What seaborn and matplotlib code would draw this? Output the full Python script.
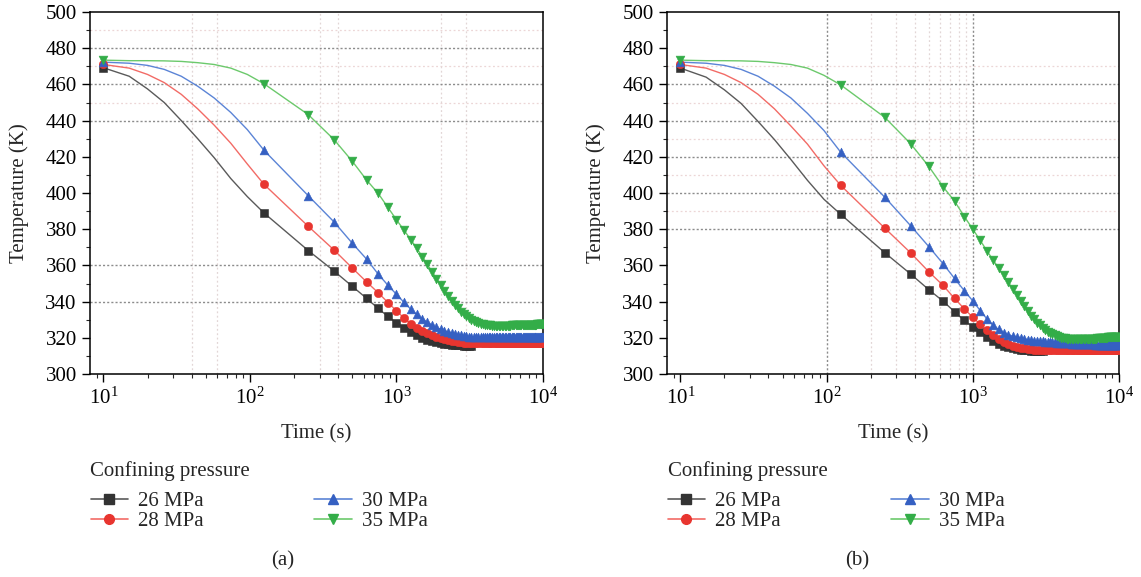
import numpy as np
import matplotlib
matplotlib.use("Agg")
import matplotlib.pyplot as plt
import seaborn as sns
from matplotlib.lines import Line2D
from matplotlib.ticker import LogLocator, MultipleLocator, NullFormatter

sns.set_theme(style="ticks")
plt.rcParams['font.family'] = ['Liberation Serif', 'DejaVu Serif']
plt.rcParams['mathtext.fontset'] = 'custom'
plt.rcParams['mathtext.rm'] = 'Liberation Serif'
plt.rcParams['mathtext.it'] = 'Liberation Serif:italic'
plt.rcParams['mathtext.bf'] = 'Liberation Serif:bold'

# ---------------- data ----------------
pressures = ["26 MPa", "28 MPa", "30 MPa", "35 MPa"]
legend_title = "Confining pressure"
panel_labels = ["(a)", "(b)"]

# early, line-only sample times (first one also carries a marker)
time_early = [10, 15, 20, 26, 34, 44, 57, 74, 96]
# marker sample times
time_marks = [125, 250, 375, 500, 625, 750, 875, 1000, 1125, 1250,
              1375, 1500, 1625, 1750, 1875, 2000, 2125, 2250, 2375, 2500,
              2625, 2750, 2875, 3000, 3125, 3250, 3375, 3500, 3625, 3750,
              3875, 4000, 4125, 4250, 4375, 4500, 4625, 4750, 4875, 5000,
              5125, 5250, 5375, 5500, 5625, 5750, 5875, 6000, 6125, 6250,
              6375, 6500, 6625, 6750, 6875, 7000, 7125, 7250, 7375, 7500,
              7625, 7750, 7875, 8000, 8125, 8250, 8375, 8500, 8625, 8750,
              8875, 9000, 9125, 9250, 9375, 9500, 9625, 9750, 9875, 10000]

# ----- panel (a) -----
a_early_26 = [469.2, 464.5, 457.5, 450.0, 440.0, 430.0, 419.5, 408.0, 398.0]
a_early_28 = [471.0, 469.0, 465.5, 461.0, 454.5, 446.5, 437.5, 427.5, 416.0]
a_early_30 = [472.3, 471.7, 470.5, 468.3, 464.5, 459.0, 452.5, 444.5, 435.0]
a_early_35 = [473.4, 473.1, 473.1, 473.0, 472.7, 472.0, 471.0, 469.0, 465.5]

a_marks_26 = [388.9, 368.2, 356.9, 348.4, 341.8, 336.2, 331.8, 328.2, 325.4, 323.2,
              321.5, 320.1, 319.0, 318.2, 317.6, 317.1, 316.7, 316.4, 316.2, 316.0,
              315.9, 315.8, 315.7, 315.6, 315.6, 315.6]
a_marks_28 = [404.7, 381.6, 368.5, 358.5, 350.9, 344.9, 339.5, 334.9, 330.9, 327.8,
              325.6, 323.9, 322.5, 321.4, 320.5, 319.8, 319.2, 318.7, 318.3, 318.0,
              317.8, 317.6, 317.4, 317.3, 317.2, 317.1, 317.0, 317.0, 317.0, 317.0,
              317.0, 317.0, 317.0, 317.0, 317.0, 317.0, 317.0, 317.0, 317.0, 317.0,
              317.0, 317.0, 317.0, 317.0, 317.0, 317.0, 317.0, 317.0, 317.0, 317.0,
              317.0, 317.0, 317.0, 317.0, 317.0, 317.0, 317.0, 317.0, 317.0, 317.0,
              317.0, 317.0, 317.0, 317.0, 317.0, 317.0, 317.0, 317.0, 317.0, 317.0,
              317.0, 317.0, 317.0, 317.0, 317.0, 317.0, 317.0, 317.0, 317.0, 317.0]
a_marks_30 = [423.5, 398.5, 384.0, 372.2, 363.5, 355.2, 349.0, 344.0, 339.6, 335.9,
              332.9, 330.5, 328.6, 327.0, 325.7, 324.7, 323.8, 323.1, 322.5, 322.0,
              321.6, 321.3, 321.0, 320.8, 320.6, 320.5, 320.4, 320.3, 320.2, 320.2,
              320.2, 320.2, 320.2, 320.2, 320.2, 320.2, 320.2, 320.2, 320.2, 320.2,
              320.2, 320.2, 320.2, 320.2, 320.2, 320.2, 320.2, 320.2, 320.2, 320.2,
              320.2, 320.2, 320.2, 320.2, 320.2, 320.2, 320.2, 320.2, 320.2, 320.2,
              320.2, 320.2, 320.2, 320.2, 320.2, 320.2, 320.2, 320.2, 320.2, 320.2,
              320.2, 320.2, 320.2, 320.2, 320.2, 320.2, 320.2, 320.2, 320.2, 320.2]
a_marks_35 = [460.3, 443.3, 429.5, 417.5, 407.2, 399.8, 392.0, 385.2, 379.5, 374.3,
              369.5, 364.8, 360.5, 356.5, 352.7, 349.2, 346.0, 343.0, 340.4, 338.1,
              336.2, 334.5, 333.1, 331.9, 330.9, 330.1, 329.4, 328.8, 328.3, 327.9,
              327.6, 327.3, 327.1, 326.9, 326.8, 326.7, 326.6, 326.6, 326.5, 326.5,
              326.5, 326.5, 326.6, 326.6, 326.6, 326.7, 326.7, 326.7, 326.8, 326.8,
              326.8, 326.8, 326.9, 326.9, 326.9, 326.9, 327.0, 327.0, 327.0, 327.0,
              327.1, 327.1, 327.1, 327.1, 327.2, 327.2, 327.2, 327.2, 327.3, 327.3,
              327.3, 327.3, 327.4, 327.4, 327.4, 327.4, 327.5, 327.5, 327.5, 327.5]

# ----- panel (b) -----
b_early_26 = [469.0, 464.0, 457.0, 449.5, 439.5, 429.5, 418.5, 407.0, 396.5]
b_early_28 = [471.0, 469.0, 465.5, 461.0, 454.5, 446.5, 437.0, 427.0, 415.0]
b_early_30 = [472.3, 471.7, 470.5, 468.3, 464.5, 459.0, 452.5, 444.0, 434.5]
b_early_35 = [473.4, 473.1, 473.1, 473.0, 472.7, 472.0, 471.0, 469.0, 465.0]

b_marks_26 = [388.2, 367.0, 355.3, 346.6, 340.3, 334.4, 329.6, 326.0, 323.0, 320.5,
              318.4, 316.8, 315.7, 314.9, 314.3, 313.8, 313.5, 313.2, 313.0, 312.9,
              312.8, 312.8, 312.7, 312.7]
b_marks_28 = [404.2, 380.6, 367.0, 356.5, 349.0, 341.8, 336.0, 331.3, 327.4, 324.2,
              321.4, 319.2, 317.6, 316.4, 315.5, 314.9, 314.4, 314.1, 313.8, 313.6,
              313.5, 313.4, 313.3, 313.3, 313.2, 313.2, 313.2, 313.2, 313.2, 313.2,
              313.2, 313.2, 313.2, 313.2, 313.2, 313.2, 313.2, 313.2, 313.2, 313.2,
              313.2, 313.2, 313.2, 313.2, 313.2, 313.2, 313.2, 313.2, 313.2, 313.2,
              313.2, 313.2, 313.2, 313.2, 313.2, 313.2, 313.2, 313.2, 313.2, 313.2,
              313.2, 313.2, 313.2, 313.2, 313.2, 313.2, 313.2, 313.2, 313.2, 313.2,
              313.2, 313.2, 313.2, 313.2, 313.2, 313.2, 313.2, 313.2, 313.2, 313.2]
b_marks_30 = [422.5, 397.7, 382.0, 370.4, 361.0, 352.8, 346.0, 340.4, 335.0, 330.4,
              327.0, 324.6, 322.9, 321.7, 320.8, 320.2, 319.7, 319.3, 319.0, 318.7,
              318.5, 318.3, 318.2, 318.0, 317.9, 317.8, 317.7, 317.6, 317.5, 317.4,
              317.3, 317.2, 317.1, 317.0, 317.0, 316.9, 316.9, 316.8, 316.8, 316.7,
              316.7, 316.6, 316.6, 316.6, 316.5, 316.5, 316.5, 316.4, 316.4, 316.4,
              316.4, 316.3, 316.3, 316.3, 316.3, 316.2, 316.2, 316.2, 316.2, 316.2,
              316.1, 316.1, 316.1, 316.1, 316.1, 316.1, 316.1, 316.1, 316.1, 316.1,
              316.0, 316.0, 316.0, 316.0, 316.0, 316.0, 316.0, 316.0, 316.0, 316.0]
b_marks_35 = [459.7, 441.8, 427.3, 414.7, 403.5, 395.5, 387.0, 380.0, 373.8, 368.0,
              363.1, 358.5, 354.5, 350.6, 347.0, 343.6, 340.4, 337.4, 334.7, 332.3,
              330.2, 328.4, 326.8, 325.4, 324.3, 323.4, 322.6, 321.9, 321.3, 320.8,
              320.4, 320.1, 319.9, 319.7, 319.5, 319.4, 319.3, 319.2, 319.2, 319.1,
              319.1, 319.1, 319.1, 319.1, 319.2, 319.2, 319.2, 319.2, 319.3, 319.3,
              319.4, 319.4, 319.5, 319.5, 319.6, 319.6, 319.7, 319.7, 319.8, 319.8,
              319.9, 319.9, 320.0, 320.0, 320.1, 320.1, 320.2, 320.2, 320.3, 320.3,
              320.3, 320.4, 320.4, 320.4, 320.5, 320.5, 320.5, 320.6, 320.6, 320.6]

panels = [
    ([a_early_26, a_early_28, a_early_30, a_early_35],
     [a_marks_26, a_marks_28, a_marks_30, a_marks_35]),
    ([b_early_26, b_early_28, b_early_30, b_early_35],
     [b_marks_26, b_marks_28, b_marks_30, b_marks_35]),
]

# ---------------- styles ----------------
line_colors = ["#5a5a5a", "#f26b66", "#5b84d6", "#6cc96c"]
mark_colors = ["#333333", "#e8352f", "#3560c2", "#33ad48"]
markers = ["s", "o", "^", "v"]
mark_sizes = [26, 36, 40, 40]
FS = 15

fig = plt.figure(figsize=(11.41, 5.77), dpi=100)
W, H = 1141, 577
axes_px = [(90, 543), (667, 1119)]
top_px, bot_px = 12, 374

grid_dark = [[480, 460, 440, 360, 340], [460, 440, 420, 400, 380]]
grid_faint_h = [[490, 470, 450], [470, 450, 430, 410, 390]]
grid_v_dark = [[], [100, 1000]]
grid_v_faint = [[40, 60, 300, 400, 2000, 3000], [200, 300, 400, 500, 600, 700, 800, 900]]
label_x = [283, 857]

for pi, (early_list, marks_list) in enumerate(panels):
    x0, x1 = axes_px[pi]
    ax = fig.add_axes([x0 / W, 1 - bot_px / H, (x1 - x0) / W, (bot_px - top_px) / H])
    ax.set_xscale("log")

    for yv in grid_faint_h[pi]:
        ax.axhline(yv, color="#ecd6d6", lw=0.9, ls=(0, (1.5, 2.0)), zorder=0.5)
    for xv in grid_v_faint[pi]:
        ax.axvline(xv, color="#e2d6d6", lw=0.9, ls=(0, (1.5, 2.0)), zorder=0.5)
    for yv in grid_dark[pi]:
        ax.axhline(yv, color="#8c8c8c", lw=1.0, ls=(0, (1.5, 1.5)), zorder=0.8)
    for xv in grid_v_dark[pi]:
        ax.axvline(xv, color="#8c8c8c", lw=1.0, ls=(0, (1.5, 1.5)), zorder=0.8)

    for si in range(4):
        e = early_list[si]
        m = marks_list[si]
        tx = time_early + time_marks[:len(m)]
        ty = e + m
        sns.lineplot(x=tx, y=ty, ax=ax, color=line_colors[si], lw=1.0,
                     estimator=None, sort=False, legend=False, zorder=2 + si * 0.1)
        mx = [time_early[0]] + time_marks[:len(m)]
        my = [e[0]] + m
        sns.scatterplot(x=mx, y=my, ax=ax, marker=markers[si], s=mark_sizes[si],
                        color=mark_colors[si], edgecolor=mark_colors[si], linewidth=0.4,
                        legend=False, zorder=3 + si * 0.1)

    ax.set_xlim(8.1, 10000)
    ax.set_ylim(300, 500)
    ax.yaxis.set_major_locator(MultipleLocator(20))
    ax.yaxis.set_minor_locator(MultipleLocator(10))
    ax.xaxis.set_major_locator(LogLocator(base=10, numticks=10))
    ax.xaxis.set_minor_locator(LogLocator(base=10, subs=np.arange(2, 10), numticks=20))
    ax.xaxis.set_minor_formatter(NullFormatter())
    ax.tick_params(which="major", direction="out", length=5.5, width=1.0, labelsize=FS,
                   colors="black", bottom=True, left=True, top=False, right=False, pad=4)
    ax.tick_params(which="minor", direction="out", length=3.0, width=0.8,
                   bottom=True, left=True, top=False, right=False)
    for sp in ax.spines.values():
        sp.set_visible(True)
        sp.set_color("black")
        sp.set_linewidth(1.1)

    ax.set_xlabel("Time (s)", fontsize=FS)
    ax.set_ylabel("Temperature (K)", fontsize=FS)
    ax.xaxis.set_label_coords(0.5, -0.14)
    ax.yaxis.set_label_coords(-0.135, 0.5)

    handles = [Line2D([], [], color=line_colors[i], lw=1.2, marker=markers[i],
                      markersize=7, markerfacecolor=mark_colors[i],
                      markeredgecolor=mark_colors[i]) for i in range(4)]
    leg = ax.legend(handles, pressures, ncol=2, loc="upper left",
                    bbox_to_anchor=((x0 + 0.5) / W, 1 - 461 / H),
                    bbox_transform=fig.transFigure, title=legend_title,
                    frameon=False, fontsize=FS, title_fontsize=FS, alignment="left",
                    handlelength=1.8, handletextpad=0.5, columnspacing=5.3,
                    labelspacing=0.04, borderaxespad=0, borderpad=0)
    leg._legend_box.sep = 7.5

    fig.text(label_x[pi] / W, 1 - 561 / H, panel_labels[pi], ha="center", va="center",
             fontsize=FS)

fig.savefig("out.png", dpi=100)
